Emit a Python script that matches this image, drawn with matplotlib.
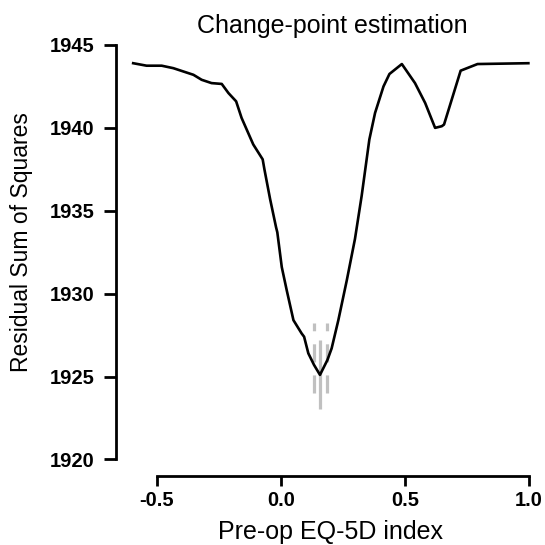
import matplotlib
matplotlib.use("Agg")
import matplotlib.pyplot as plt

plt.rcParams['font.family'] = ['Liberation Sans', 'DejaVu Sans']
plt.rcParams['lines.scale_dashes'] = False

# Data
index_x = [-0.596, -0.542, -0.481, -0.434, -0.353, -0.320, -0.280, -0.239, -0.212,
           -0.181, -0.159, -0.112, -0.074, -0.067, -0.044, -0.020, -0.015, 0.003,
           0.023, 0.050, 0.083, 0.093, 0.110, 0.133, 0.157, 0.187, 0.204, 0.231,
           0.265, 0.298, 0.325, 0.356, 0.379, 0.413, 0.437, 0.487, 0.540, 0.581,
           0.621, 0.648, 0.657, 0.724, 0.792, 0.997]
rss = [1943.9, 1943.75, 1943.75, 1943.6, 1943.2, 1942.9, 1942.7, 1942.65, 1942.1,
       1941.6, 1940.6, 1939.0, 1938.1, 1937.5, 1935.7, 1934.0, 1933.7, 1931.6,
       1930.2, 1928.4, 1927.6, 1927.4, 1926.4, 1925.7, 1925.1, 1926.0, 1926.7, 1928.4,
       1930.8, 1933.3, 1935.9, 1939.3, 1940.9, 1942.5, 1943.25, 1943.85, 1942.7, 1941.5,
       1940.0, 1940.1, 1940.2, 1943.45, 1943.85, 1943.9]

# change-point estimate and confidence bounds
cp_est = 0.157
cp_est_range = [1923.05, 1927.2]
ci_bounds = [0.133, 0.184]
ci_range = [1924.0, 1928.25]

xticks = [-0.5, 0.0, 0.5, 1.0]
xticklabels = ['-0.5', '0.0', '0.5', '1.0']
yticks = [1920, 1925, 1930, 1935, 1940, 1945]

W = 545.0
fig = plt.figure(figsize=(5.45, 5.45), dpi=100)
ax = fig.add_axes([0.2134, 0.1266, 0.7866, 0.8213])

grey = '#c0c0c0'
for b in ci_bounds:
    ax.plot([b, b], ci_range, color=grey, lw=2.3, dashes=(13, 9.4),
            solid_capstyle='butt', dash_capstyle='butt', zorder=1)
ax.plot([cp_est, cp_est], cp_est_range, color=grey, lw=2.3,
        solid_capstyle='butt', zorder=1)

ax.plot(index_x, rss, color='black', lw=1.9, zorder=3, solid_joinstyle='round')

ax.set_xlim(-0.664, 1.064)
ax.set_ylim(1919, 1946)

for s in ['top', 'right']:
    ax.spines[s].set_visible(False)
ax.spines['left'].set_bounds(1920, 1945)
ax.spines['bottom'].set_bounds(-0.5, 1.0)
for s in ['left', 'bottom']:
    ax.spines[s].set_linewidth(2.0)
    ax.spines[s].set_capstyle('projecting')

ax.set_xticks(xticks)
ax.set_xticklabels(xticklabels)
ax.set_yticks(yticks)
ax.tick_params(axis='both', width=2.0, labelsize=14.5)
ax.tick_params(axis='y', length=8.5, pad=7)
ax.tick_params(axis='x', length=7.5, pad=3)
for lab in ax.get_xticklabels() + ax.get_yticklabels():
    lab.set_fontweight('bold')

fig.text(330.5 / W, 1 - 539 / W, 'Pre-op EQ-5D index', fontsize=18,
         ha='center', va='baseline')
fig.text(22 / W, 1 - 242 / W, 'Residual Sum of Squares', fontsize=16.5,
         rotation=90, ha='center', va='center')
fig.text(332 / W, 1 - 33 / W, 'Change-point estimation', fontsize=18,
         ha='center', va='baseline')

fig.savefig('out.png', dpi=100)
